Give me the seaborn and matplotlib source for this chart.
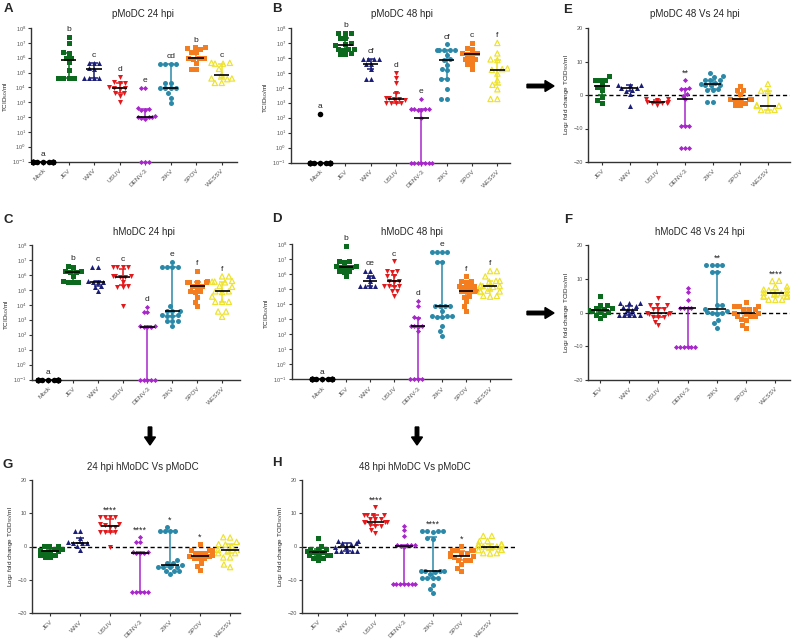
import numpy as np
import matplotlib
matplotlib.use('Agg')
import matplotlib.pyplot as plt
import seaborn as sns

# --- data (log10 TCID50/ml for A-D, log2 fold change for E-H) ---
viruses = ['JEV', 'WNV', 'USUV', 'DENV-3', 'ZIKV', 'SPOV', 'WESSV']
titer_groups = ['Mock'] + viruses

a_vals = {
    'Mock': [-1] * 12,
    'JEV': [7.4, 7.0, 6.35, 6.3, 6.0, 6.0, 5.7, 5.2, 4.6, 4.6, 4.6, 4.6],
    'WNV': [5.65, 5.65, 5.65, 5.3, 5.25, 4.6, 4.6, 4.6, 4.6],
    'USUV': [4.7, 4.35, 4.3, 4.3, 4.0, 3.95, 3.95, 3.9, 3.6, 3.6, 3.4, 3.0],
    'DENV-3': [3.95, 3.95, 2.6, 2.55, 2.5, 2.45, 2.05, 2.0, 2.0, 2.0, 1.95, 1.9, -1, -1, -1],
    'ZIKV': [5.6, 5.6, 5.6, 5.6, 4.3, 4.3, 3.95, 3.95, 3.95, 3.95, 3.6, 3.3, 2.95],
    'SPOV': [6.7, 6.7, 6.65, 6.6, 6.4, 6.35, 6.0, 6.0, 5.95, 5.9, 5.65, 5.25, 5.25],
    'WESSV': [5.65, 5.65, 5.6, 5.6, 5.25, 4.85, 4.6, 4.6, 4.55, 4.3, 4.3],
}
a_letters = ['a', 'b', 'c', 'd', 'e', 'cd', 'b', 'c']

b_vals = {
    'Mock': [2.25] + [-1] * 11,
    'JEV': [7.65, 7.65, 7.65, 7.35, 7.3, 7.0, 6.95, 6.85, 6.6, 6.6, 6.6, 6.55, 6.3, 6.25, 6.25],
    'WNV': [5.95, 5.95, 5.9, 5.9, 5.6, 5.6, 5.25, 4.6, 4.6],
    'USUV': [5.0, 4.65, 4.3, 3.65, 3.3, 3.3, 3.25, 3.25, 3.2, 3.0, 2.95, 2.95, 2.95],
    'DENV-3': [3.25, 2.6, 2.55, 2.55, 2.55, 2.5, 2.5, 2.0, -1, -1, -1, -1, -1, -1, -1],
    'ZIKV': [6.9, 6.55, 6.55, 6.55, 6.5, 6.5, 6.2, 5.9, 5.85, 5.55, 5.25, 5.2, 4.6, 4.6, 3.9, 3.25, 3.25],
    'SPOV': [7.0, 6.65, 6.6, 6.3, 6.3, 6.25, 6.25, 5.95, 5.9, 5.9, 5.6, 5.6, 5.25],
    'WESSV': [7.0, 6.3, 5.9, 5.85, 5.3, 5.25, 5.2, 4.95, 4.5, 4.2, 3.9, 3.25, 3.25],
}
b_letters = ['a', 'b', 'cf', 'd', 'e', 'cf', 'c', 'f']

c_vals = {
    'Mock': [-1] * 12,
    'JEV': [6.6, 6.55, 6.25, 6.25, 6.2, 6.2, 5.9, 5.6, 5.55, 5.55, 5.5],
    'WNV': [6.55, 6.55, 5.6, 5.55, 5.55, 5.5, 5.25, 5.2, 4.9],
    'USUV': [6.55, 6.55, 6.55, 6.55, 5.9, 5.9, 5.9, 5.85, 5.85, 5.55, 5.25, 5.2, 5.2, 3.95],
    'DENV-3': [3.85, 3.5, 3.5, 2.55, 2.55, 2.5, 2.5, 2.5, -1, -1, -1, -1, -1],
    'ZIKV': [6.85, 6.5, 6.5, 6.5, 6.5, 3.9, 3.6, 3.6, 3.6, 3.3, 3.3, 3.25, 3.25, 2.9, 2.9, 2.9, 2.55],
    'SPOV': [6.25, 5.6, 5.55, 5.55, 5.5, 5.5, 5.25, 5.25, 5.2, 4.9, 4.9, 4.85, 4.55, 4.2, 3.9],
    'WESSV': [5.9, 5.9, 5.6, 5.55, 5.55, 5.5, 5.25, 5.2, 4.9, 4.9, 4.85, 4.55, 4.2, 4.2, 4.2, 3.55, 3.55, 3.2],
}
c_letters = ['a', 'b', 'c', 'c', 'd', 'e', 'f', 'f']

d_vals = {
    'Mock': [-1] * 12,
    'JEV': [7.85, 6.85, 6.85, 6.8, 6.55, 6.55, 6.5, 6.5, 6.5, 6.2, 6.2, 6.15, 5.85],
    'WNV': [6.2, 6.2, 5.85, 5.85, 5.55, 5.2, 5.2, 5.2, 5.2],
    'USUV': [6.85, 6.2, 6.2, 6.15, 5.85, 5.85, 5.55, 5.55, 5.5, 5.2, 5.2, 5.2, 5.15, 4.85, 4.85, 4.55],
    'DENV-3': [4.2, 3.85, 3.15, 3.1, 2.55, 2.55, 2.55, 2.5, 2.2, -1, -1, -1, -1],
    'ZIKV': [7.5, 7.5, 7.5, 7.5, 6.8, 6.8, 3.9, 3.85, 3.85, 3.85, 3.55, 3.2, 3.2, 3.2, 3.15, 3.15, 2.55, 2.2, 1.9],
    'SPOV': [5.85, 5.55, 5.55, 5.5, 5.2, 5.2, 5.2, 5.15, 4.9, 4.85, 4.85, 4.85, 4.55, 4.5, 4.2, 3.85, 3.55],
    'WESSV': [6.2, 6.2, 5.85, 5.55, 5.55, 5.5, 5.25, 5.2, 5.2, 5.2, 5.15, 4.9, 4.85, 4.85, 4.85, 4.55, 4.55, 4.5],
}
d_letters = ['a', 'b', 'ce', 'c', 'd', 'e', 'f', 'f']

e_vals = {
    'JEV': [5.6, 4.5, 4.5, 4.4, 3.0, 2.3, 1.5, -0.5, -1.5, -2.3],
    'WNV': [3.0, 3.0, 3.0, 2.0, 2.0, 1.5, 1.2, 0.2, -3.3],
    'USUV': [-1.2, -1.3, -1.4, -2.0, -2.1, -2.3, -2.3, -2.5, -3.0],
    'DENV-3': [4.5, 2.0, 1.9, 1.8, 0.2, -0.3, -1.3, -9.2, -9.2, -9.3, -15.8, -15.8, -15.8],
    'ZIKV': [6.6, 5.6, 5.5, 4.5, 4.5, 4.4, 3.7, 3.3, 3.0, 3.0, 2.9, 1.7, 1.6, 1.5, -2.0, -2.0],
    'SPOV': [2.7, 1.5, 1.4, 0.2, -1.2, -1.3, -1.3, -1.4, -1.5, -2.3, -3.0, -3.0],
    'WESSV': [3.3, 1.3, 1.2, -3.0, -3.2, -3.3, -4.4, -4.5, -4.6],
}
e_stars = ['', '', '', '**', '', '', '']

f_vals = {
    'JEV': [5.0, 2.3, 2.2, 1.3, 1.2, 1.0, 0.8, 0.3, 0.2, 0.1, -0.7, -0.8, -1.7],
    'WNV': [2.8, 2.8, 2.7, 1.8, 1.7, 0.8, 0.6, -0.7, -0.7, -0.7, -0.7, -0.7],
    'USUV': [4.3, 2.3, 2.2, 2.2, 1.0, 1.0, 0.9, -0.2, -0.2, -0.3, -0.3, -1.2, -1.2, -1.3, -2.7, -3.7],
    'DENV-3': [7.2, 6.0, 3.8, 1.4, 1.3, 1.3, 1.2, -10.1, -10.1, -10.1, -10.1, -10.1, -10.1],
    'ZIKV': [14.2, 14.2, 14.2, 14.2, 12.0, 12.0, 2.3, 2.2, 1.0, 0.3, 0.2, 0.0, -0.2, -0.3, -2.2, -3.2, -4.5],
    'SPOV': [3.0, 2.0, 2.0, 1.9, 1.9, 1.0, 1.0, 0.9, 0.0, -0.1, -0.2, -0.2, -1.0, -1.0, -1.1, -2.0, -2.1, -3.7, -4.7],
    'WESSV': [9.4, 9.3, 7.7, 7.6, 6.8, 6.7, 6.6, 5.8, 5.7, 5.7, 5.6, 4.8, 4.8, 4.7, 4.7, 3.8, 3.8, 3.7],
}
f_stars = ['', '', '', '', '**', '', '****']

g_vals = {
    'JEV': [0.3, 0.2, 0.1, -0.7, -0.8, -1.0, -1.5, -1.6, -1.7, -2.5, -2.6, -3.3, -3.3],
    'WNV': [4.6, 4.6, 2.5, 1.3, 1.2, 1.2, 1.1, 0.3, -1.0],
    'USUV': [8.9, 8.9, 8.9, 8.9, 6.9, 6.8, 6.6, 6.0, 5.9, 4.5, 4.5, 4.4, 4.4, 0.0],
    'DENV-3': [2.8, 1.4, 1.4, -1.8, -1.8, -1.9, -1.9, -2.0, -13.6, -13.6, -13.6, -13.6, -13.6],
    'ZIKV': [5.9, 4.6, 4.6, 4.6, 4.6, -4.0, -5.0, -5.0, -5.6, -6.1, -6.2, -6.2, -6.3, -7.4, -7.4, -7.5, -8.4],
    'SPOV': [0.7, -1.0, -1.0, -1.1, -2.0, -2.0, -2.1, -2.5, -3.0, -3.0, -3.5, -3.5, -3.6, -5.0, -6.0, -7.2],
    'WESSV': [2.8, 2.7, 1.5, 1.4, 0.7, 0.6, 0.0, -0.5, -1.0, -1.0, -1.5, -2.0, -2.0, -3.3, -3.3, -5.4, -6.2],
}
g_stars = ['', '', '****', '****', '*', '*', '']

h_vals = {
    'JEV': [2.7, 0.3, -0.7, -0.7, -0.8, -1.5, -1.6, -1.8, -2.5, -2.5, -2.6, -2.6, -3.5, -3.5, -4.2],
    'WNV': [1.7, 1.7, 1.0, 1.0, 0.9, 0.0, -0.3, -1.5, -1.5, -1.5, -1.5, -1.5],
    'USUV': [11.9, 9.6, 9.6, 9.5, 9.5, 8.4, 8.3, 8.3, 7.4, 7.4, 7.3, 7.3, 6.4, 6.3, 6.3, 5.0, 4.0],
    'DENV-3': [6.2, 5.1, 3.3, 0.6, 0.5, 0.5, 0.4, 0.3, -0.2, -11.2, -11.2, -11.2, -11.2, -11.2, -11.2, -11.2],
    'ZIKV': [4.6, 4.6, 4.6, 4.6, 4.5, 2.5, 2.4, -7.4, -7.4, -7.5, -7.5, -7.6, -8.2, -9.4, -9.4, -9.5, -9.5, -11.7, -12.9, -14.1],
    'SPOV': [0.3, -1.0, -1.0, -1.1, -1.1, -2.0, -2.0, -2.1, -3.0, -3.0, -3.0, -3.1, -4.0, -4.0, -4.1, -5.2, -6.4, -7.4],
    'WESSV': [3.2, 3.2, 1.7, 1.6, 0.7, 0.7, 0.6, 0.3, 0.0, 0.0, -0.1, -1.0, -1.0, -1.1, -2.0, -2.0, -2.1],
}
h_stars = ['', '', '****', '', '****', '*', '']

# --- styles ---
colors = {'Mock': 'black', 'JEV': '#0b6a1e', 'WNV': '#1c1f78', 'USUV': '#e4191c',
          'DENV-3': '#a826cc', 'ZIKV': '#2a89a8', 'SPOV': '#f47d20', 'WESSV': '#eee22a'}
markers = {'Mock': 'o', 'JEV': 's', 'WNV': '^', 'USUV': 'v', 'DENV-3': 'D',
           'ZIKV': 'o', 'SPOV': 's', 'WESSV': '^'}
msize = {'Mock': 4.0, 'JEV': 3.6, 'WNV': 3.6, 'USUV': 3.6, 'DENV-3': 2.6,
         'ZIKV': 3.6, 'SPOV': 3.6, 'WESSV': 3.8}
open_groups = {'ZIKV', 'SPOV', 'WESSV'}
axis_col = '#333333'
label_col = '#555555'

sns.set_style('ticks')
plt.rcParams['font.family'] = ['Liberation Sans', 'DejaVu Sans']

W, H = 794, 641
fig = plt.figure(figsize=(W / 100, H / 100), dpi=100)


def make_ax(l, t, r, b):
    return fig.add_axes([l / W, 1 - b / H, (r - l) / W, (b - t) / H])


def draw_panel(ax, vals, order, labels, log_scale, xlim):
    for i, g in enumerate(order):
        y = np.array(vals[g], dtype=float)
        col = colors[g]
        sns.swarmplot(x=[g] * len(y), y=y, order=order, color=col, marker=markers[g],
                      size=msize[g], linewidth=0, ax=ax, warn_thresh=1)
        pts = ax.collections[-1]
        if g in open_groups:
            pts.set_facecolor('none')
            pts.set_edgecolor(col)
            pts.set_linewidth(0.85)
        q1, med, q3 = np.percentile(y, [25, 50, 75])
        if g != 'Mock':
            ax.vlines(i, q1, q3, color=col, lw=1.1, zorder=4)
            ax.hlines([q1, q3], i - 0.14, i + 0.14, color=col, lw=1.1, zorder=4)
        ax.hlines(med, i - 0.3, i + 0.3, color='black', lw=1.2, zorder=5)
        if labels[i]:
            if log_scale:
                ax.text(i, y.max() + 0.25, labels[i], ha='center', va='bottom',
                        fontsize=6, color='#222222')
            else:
                ax.text(i, y.max() + 0.6, labels[i], ha='center', va='bottom',
                        fontsize=6.5, color='#222222')

    ax.set_xlim(*xlim)
    if log_scale:
        # leave room under 10^-1 so the points on the axis are drawn whole
        ax.set_ylim(-1.3, 8)
        ax.spines['bottom'].set_position(('data', -1))
        ax.spines['left'].set_bounds(-1, 8)
        ax.set_yticks(range(-1, 9))
        ax.set_yticklabels(['10$^{%d}$' % k for k in range(-1, 9)])
        ax.set_ylabel('TCID$_{50}$/ml', fontsize=4.6, labelpad=1.5, color='#222222')
    else:
        ax.set_ylim(-20, 20)
        ax.set_yticks([-20, -10, 0, 10, 20])
        ax.axhline(0, color='black', lw=1.0, ls=(0, (3, 2)), zorder=1)
        ax.set_ylabel('Log$_2$ fold change TCID$_{50}$/ml', fontsize=4.6, labelpad=1.5,
                      color='#222222')
    ax.set_xticks(range(len(order)))
    ax.set_xticklabels(order, rotation=45, ha='right', rotation_mode='anchor',
                       fontsize=4.6, color=label_col)
    ax.tick_params(axis='y', labelsize=4, length=2.5, width=0.8, pad=1.2,
                   colors=axis_col, labelcolor=label_col)
    ax.tick_params(axis='x', length=2.5, width=0.8, pad=2, colors=axis_col,
                   labelcolor=label_col)
    for s in ['top', 'right']:
        ax.spines[s].set_visible(False)
    for s in ['left', 'bottom']:
        ax.spines[s].set_linewidth(1.0)
        ax.spines[s].set_color(axis_col)
    ax.set_facecolor('none')


# rects in pixels (left, top, right, bottom); log panels extend 4 px below the x axis
panels = [
    ((31, 28, 237, 166), a_vals, titer_groups, a_letters, True, (-0.47, 7.6)),
    ((291, 28, 510, 167), b_vals, titer_groups, b_letters, True, (-1.15, 7.5)),
    ((588, 28, 790, 162), e_vals, viruses, e_stars, False, (-0.5, 6.8)),
    ((32, 245, 240, 384), c_vals, titer_groups, c_letters, True, (-0.64, 7.72)),
    ((292, 244, 511, 384), d_vals, titer_groups, d_letters, True, (-1.25, 7.87)),
    ((588, 245, 790, 380), f_vals, viruses, f_stars, False, (-0.41, 6.5)),
    ((32, 480, 240, 613), g_vals, viruses, g_stars, False, (-0.6, 6.33)),
    ((302, 480, 517, 613), h_vals, viruses, h_stars, False, (-0.56, 6.94)),
]
for rect, vals, order, labels, log_scale, xlim in panels:
    ax = make_ax(*rect)
    draw_panel(ax, vals, order, labels, log_scale, xlim)

# --- overlay for titles, panel letters and arrows ---
ov = fig.add_axes([0, 0, 1, 1])
ov.set_xlim(0, W)
ov.set_ylim(H, 0)
ov.axis('off')

titles = [('pMoDC 24 hpi', 143, 14), ('pMoDC 48 hpi', 402, 14), ('pMoDC 48 Vs 24 hpi', 695, 14),
          ('hMoDC 24 hpi', 144, 232), ('hMoDC 48 hpi', 412, 232), ('hMoDC 48 Vs 24 hpi', 700, 232),
          ('24 hpi hMoDC Vs pMoDC', 143, 467), ('48 hpi hMoDC Vs pMoDC', 415, 467)]
for txt, x, y in titles:
    ov.text(x, y, txt, ha='center', va='center', fontsize=7)

letters = [('A', 8, 9), ('B', 277, 9), ('E', 568, 10), ('C', 8, 220), ('D', 277, 219),
           ('F', 568, 220), ('G', 8, 465), ('H', 277, 463)]
for txt, x, y in letters:
    ov.text(x, y, txt, ha='center', va='center', fontsize=9.5, fontweight='bold')

for y in [86, 313]:
    ov.arrow(527, y, 27, 0, width=3.5, head_width=11, head_length=9,
             length_includes_head=True, color='black')
for x in [150, 417]:
    ov.arrow(x, 427, 0, 18, width=3.5, head_width=11, head_length=8,
             length_includes_head=True, color='black')

fig.savefig('out.png', dpi=100)
